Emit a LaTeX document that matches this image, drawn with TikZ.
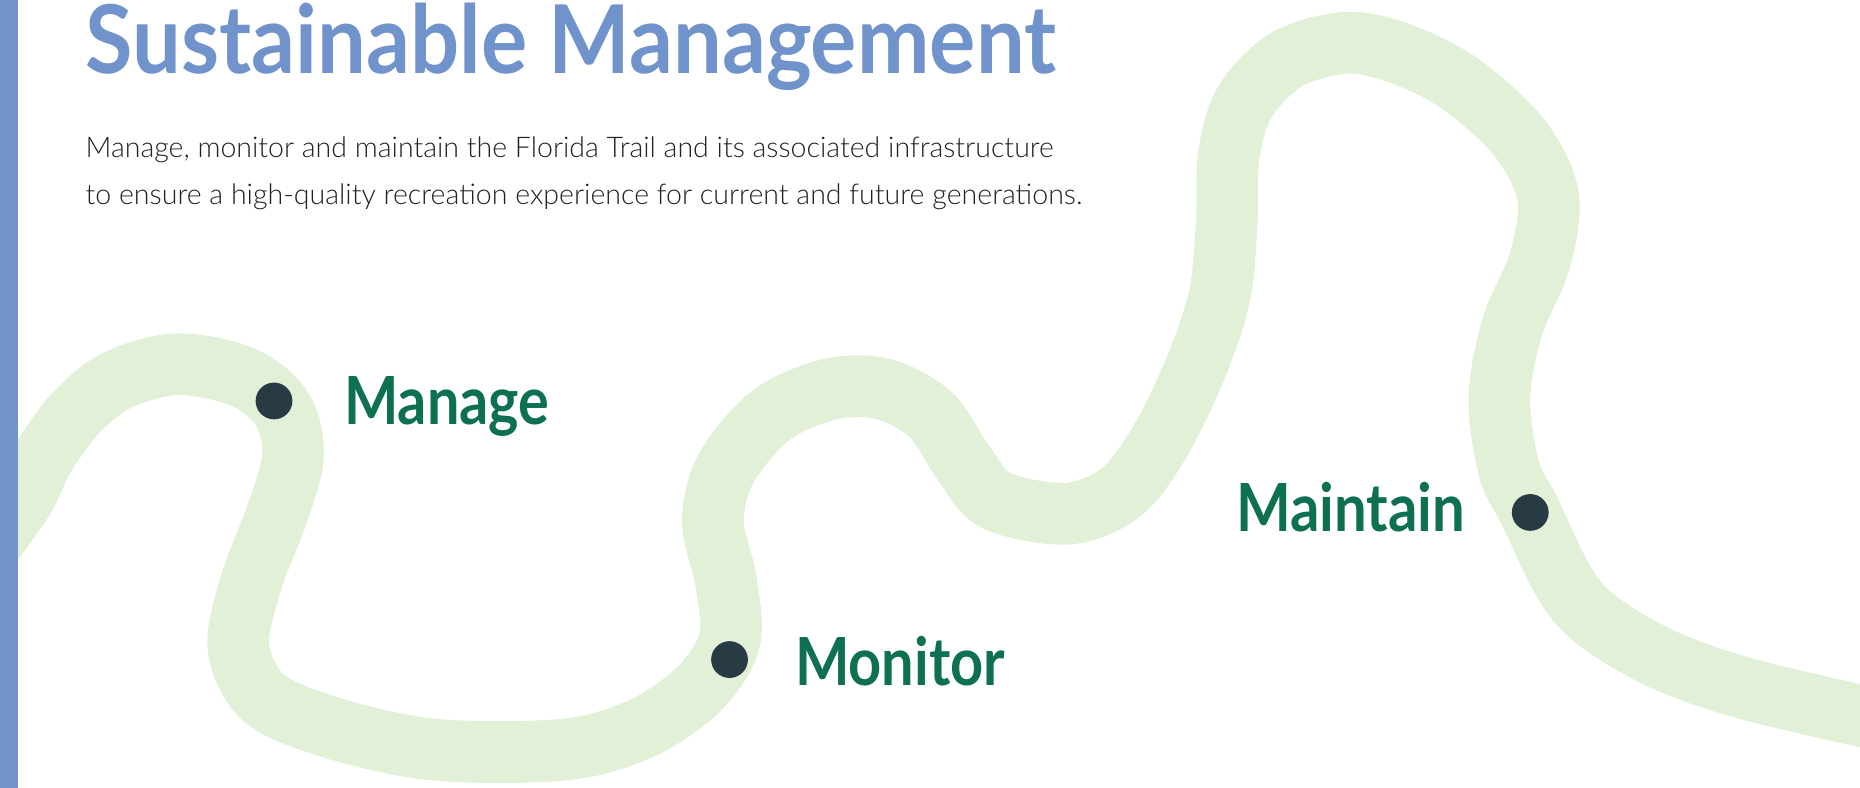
\documentclass[tikz,border=0pt]{standalone}
\usepackage{fontspec}
\setmainfont{Lato}
\newfontfamily\bodyfont{Lato Light}
\usepackage{graphicx}
\definecolor{barblue}{HTML}{7393CB}
\definecolor{titleblue}{HTML}{7193CC}
\definecolor{trailgreen}{HTML}{E1F0D6}
\definecolor{labelgreen}{HTML}{0E7053}
\definecolor{dotdark}{HTML}{283B44}
\definecolor{bodytext}{HTML}{222222}
\tikzset{
  trail/.style={draw=trailgreen, line width=52pt, line join=round},
  stopdot/.style={circle, fill=dotdark, minimum size=31pt, inner sep=0pt},
  steplabel/.style={anchor=base west, inner sep=0pt, text=labelgreen, font=\bfseries\fontsize{56}{56}\selectfont},
  bodyline/.style={anchor=base west, inner sep=0pt, text=bodytext, font=\bodyfont\fontsize{24}{24}\selectfont}
}
\begin{document}
\begin{tikzpicture}[x=1pt,y=-1pt]
\useasboundingbox (0,0) rectangle (1568,664);
% trail
\draw[trail] plot[smooth, tension=0.55] coordinates {
 (-10,462) (20,420) (37,385) (65,347) (100,320) (150,307) (205,318) (238,345) (247,385)
 (233,435) (212,490) (201,545) (222,588) (275,612) (350,630) (420,634) (490,630)
 (545,612) (590,580) (615,540) (612,490) (601,440) (612,395) (650,350) (700,328)
 (745,328) (785,350) (812,390) (840,422) (900,433) (945,415) (978,372) (1008,310)
 (1028,250) (1034,190) (1036,130) (1050,85) (1085,50) (1135,36) (1180,45) (1230,70)
 (1280,115) (1305,165) (1298,220) (1275,275) (1264,335) (1272,395) (1290,432)
 (1318,490) (1345,522) (1400,555) (1470,580) (1580,606)
};
% side bar
\fill[barblue] (0,0) rectangle (15,664);
% title and text
\node[anchor=base west, inner sep=0pt, text=titleblue, font=\bfseries\fontsize{80}{80}\selectfont] (title) at (72,62) {\resizebox{818pt}{\height}{Sustainable Management}};
\node[bodyline] (body1) at (72,133) {\resizebox{816pt}{\height}{Manage, monitor and maintain the Florida Trail and its associated infrastructure}};
\node[bodyline] (body2) at (72,172) {\resizebox{840pt}{\height}{to ensure a high-quality recreation experience for current and future generations.}};
% stops
\node[stopdot] (dmanage) at (231,338) {};
\node[stopdot] (dmonitor) at (615,556) {};
\node[stopdot] (dmaintain) at (1290,432) {};
\node[steplabel] (lmanage) at (290,358) {\resizebox{173pt}{\height}{Manage}};
\node[steplabel] (lmonitor) at (670,578) {\resizebox{177pt}{\height}{Monitor}};
\node[steplabel] (lmaintain) at (1042,448) {\resizebox{193pt}{\height}{Maintain}};
\end{tikzpicture}
\end{document}
